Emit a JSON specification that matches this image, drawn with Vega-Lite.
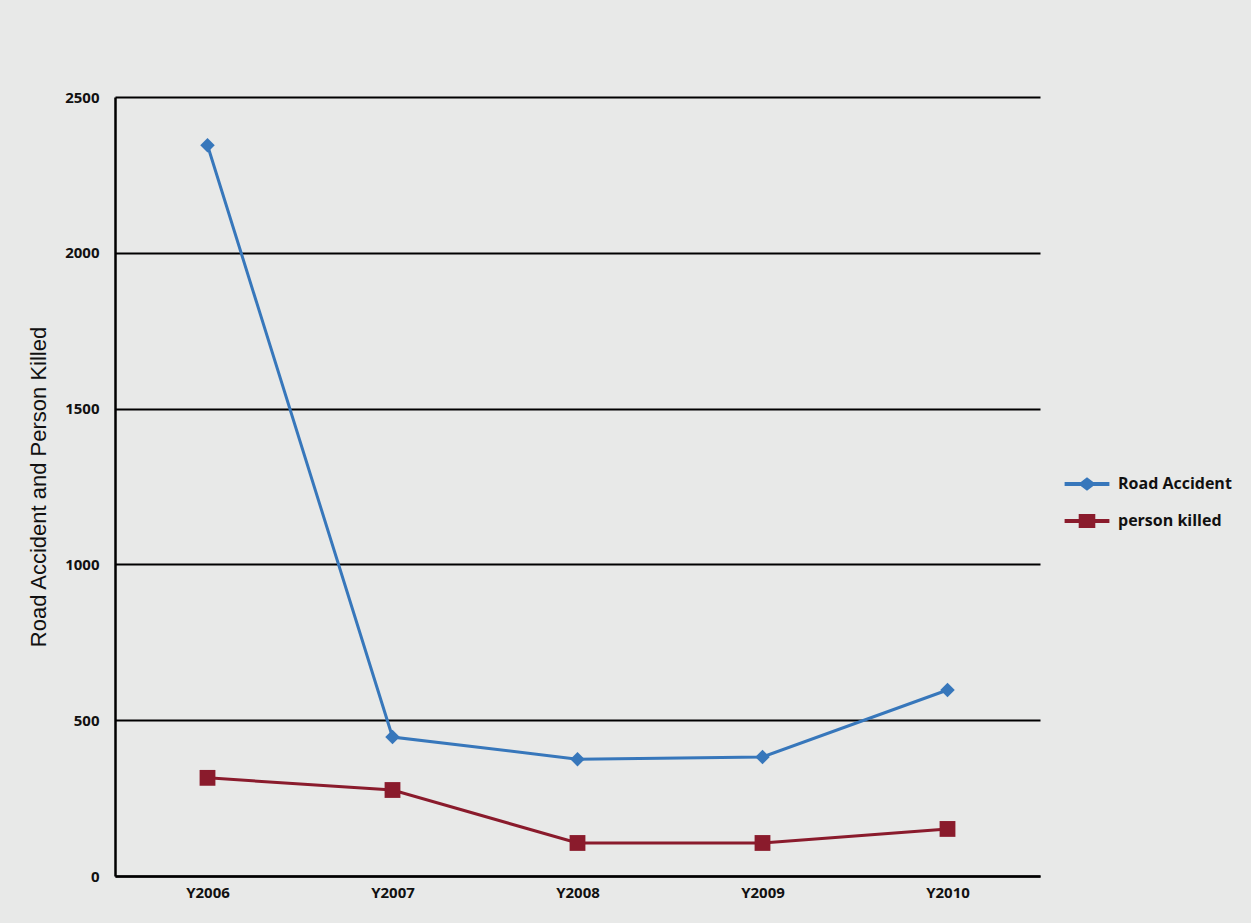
{
  "$schema": "https://vega.github.io/schema/vega-lite/v6.json",
  "autosize": {"type": "none"},
  "padding": {"left": 115, "top": 97, "right": 211, "bottom": 47},
  "width": 925,
  "height": 779,
  "background": "#e8e9e8",
  "config": {
    "view": {"stroke": null},
    "font": "Open Sans"
  },
  "data": {
    "values": [
      {"year": "Y2006", "series": "Road Accident", "value": 2345},
      {"year": "Y2007", "series": "Road Accident", "value": 446},
      {"year": "Y2008", "series": "Road Accident", "value": 375},
      {"year": "Y2009", "series": "Road Accident", "value": 382},
      {"year": "Y2010", "series": "Road Accident", "value": 597},
      {"year": "Y2006", "series": "person killed", "value": 315},
      {"year": "Y2007", "series": "person killed", "value": 276},
      {"year": "Y2008", "series": "person killed", "value": 106},
      {"year": "Y2009", "series": "person killed", "value": 106},
      {"year": "Y2010", "series": "person killed", "value": 151}
    ]
  },
  "encoding": {
    "x": {
      "field": "year", "type": "ordinal",
      "scale": {"type": "point", "padding": 0.5},
      "axis": {
        "title": null, "labelAngle": 0, "labelFontSize": 15, "labelFontWeight": "bold",
        "labelColor": "#111", "labelPadding": 9, "ticks": false,
        "domainColor": "#000", "domainWidth": 2.5, "grid": false
      }
    },
    "y": {
      "field": "value", "type": "quantitative",
      "scale": {"domain": [0, 2500]},
      "axis": {
        "title": "Road Accident and Person Killed", "titleFontSize": 22, "titleFontWeight": "normal",
        "titleFont": "Liberation Sans",
        "titleColor": "#111", "titlePadding": 14, "format": "d",
        "values": [0, 500, 1000, 1500, 2000, 2500],
        "labelFontSize": 15, "labelFontWeight": "bold", "labelColor": "#111", "labelPadding": 16,
        "ticks": false, "domainColor": "#000", "domainWidth": 2.5,
        "grid": true, "gridColor": "#000", "gridWidth": 2, "gridOpacity": 1
      }
    },
    "color": {
      "field": "series", "type": "nominal",
      "scale": {"domain": ["Road Accident", "person killed"], "range": ["#3777bb", "#8a1b2c"]},
      "legend": {
        "title": null, "orient": "none", "legendX": 956, "legendY": 371,
        "labelFontSize": 16, "labelFontWeight": "bold", "labelColor": "#111",
        "symbolSize": 784, "rowPadding": 8, "labelOffset": 15,
        "symbolStrokeWidth": 4,
        "encode": {
          "symbols": {
            "update": {
              "shape": {"signal": "datum.value === 'Road Accident' ? 'M-1.6,0H1.6M-0.4,0L0,-0.3L0.4,0L0,0.3Z' : 'M-1.6,0H1.6M-0.45,-0.35H0.45V0.35H-0.45Z'"},
              "fill": {"scale": "color", "field": "value"},
              "stroke": {"scale": "color", "field": "value"},
              "strokeWidth": {"value": 4},
              "opacity": {"value": 1}
            }
          }
        }
      }
    }
  },
  "layer": [
    {
      "mark": {"type": "line", "strokeWidth": 3}
    },
    {
      "transform": [{"filter": "datum.series === 'Road Accident'"}],
      "mark": {"type": "point", "filled": true, "opacity": 1, "shape": "diamond", "size": 210}
    },
    {
      "transform": [{"filter": "datum.series === 'person killed'"}],
      "mark": {"type": "point", "filled": true, "opacity": 1, "shape": "square", "size": 250}
    }
  ]
}
